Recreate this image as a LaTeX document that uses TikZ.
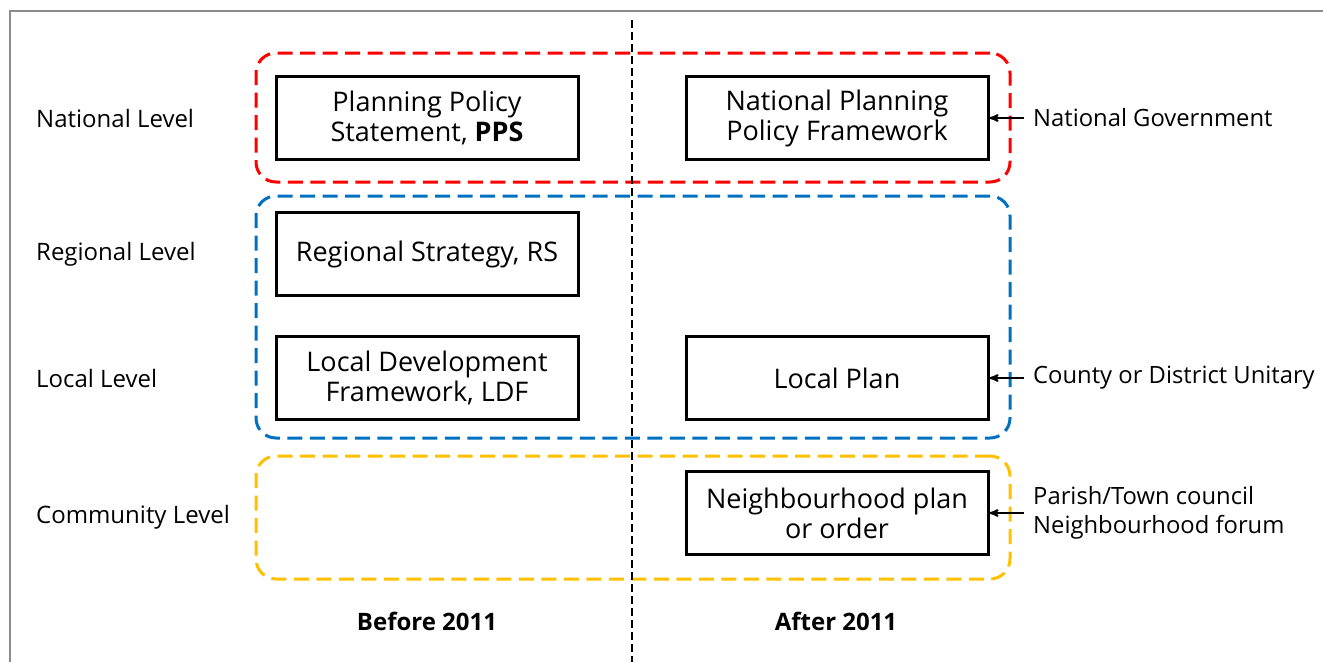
\documentclass[tikz,border=0pt]{standalone}
\usepackage{fontspec}
\setmainfont{Open Sans}
\usetikzlibrary{arrows}
\definecolor{grpred}{HTML}{FF0000}
\definecolor{grpblue}{HTML}{0070C0}
\definecolor{grpyellow}{HTML}{FFC000}
\definecolor{framegray}{HTML}{8C8C8C}

\begin{document}
\begin{tikzpicture}[x=1pt,y=-1pt,>=stealth',
  plan node/.style={draw,line width=3pt,minimum width=302pt,minimum height=83pt,align=center,inner sep=0pt,font=\fontsize{27}{30}\selectfont},
  group node/.style={draw=#1,line width=3pt,dash pattern=on 15pt off 7.5pt,rounded corners=20pt,inner sep=0pt},
  level label/.style={anchor=west,inner sep=0pt,font=\fontsize{24}{28}\selectfont},
  actor label/.style={anchor=west,align=left,inner xsep=9pt,inner ysep=0pt,font=\fontsize{23.8}{29}\selectfont},
  period label/.style={inner sep=0pt,font=\bfseries\fontsize{24}{28}\selectfont}]
  \useasboundingbox (0,0) rectangle (1323,662);

  % frame, clipped on the right and at the bottom
  \coordinate (frametl) at (10,11);
  \coordinate (frametr) at (1323,11);
  \coordinate (framebl) at (10,662);
  \draw[framegray,line width=1.5pt] (framebl) -- (frametl) -- (frametr);

  % dashed groups
  \node[group node=grpred,minimum width=754pt,minimum height=129pt] (natgrp) at (633,117.5) {};
  \node[group node=grpblue,minimum width=754pt,minimum height=242pt] (locgrp) at (633,317) {};
  \node[group node=grpyellow,minimum width=754pt,minimum height=123pt] (comgrp) at (633,517.5) {};

  % before / after divider
  \coordinate (divtop) at (632,20);
  \coordinate (divbot) at (632,662);
  \draw[line width=2.8pt,dash pattern=on 8pt off 4pt] (divtop) -- (divbot);

  % plans
  \node[plan node] (pps) at (427,118) {Planning Policy\\Statement, \textbf{PPS}};
  \node[plan node] (nppf) at (837,118) {National Planning\\Policy Framework};
  \node[plan node] (rs) at (427,254) {Regional Strategy, RS};
  \node[plan node] (ldf) at (427,378) {Local Development\\Framework, LDF};
  \node[plan node] (lp) at (837,378) {Local Plan};
  \node[plan node] (np) at (837,513) {Neighbourhood plan\\or order};

  % levels
  \node[level label] (natlvl) at (36,118) {National Level};
  \node[level label] (reglvl) at (36,254) {Regional Level};
  \node[level label] (loclvl) at (36,378) {Local Level};
  \node[level label] (comlvl) at (36,517) {Community Level};

  % who makes them
  \node[actor label] (natgov) at (1024,118) {National Government};
  \node[actor label] (county) at (1024,378) {County or District Unitary};
  \node[actor label] (parish) at (1024,513) {Parish/Town council\\Neighbourhood forum};

  \path[->,line width=2pt]
  (natgov.west) edge (nppf.east)
  (county.west) edge (lp.east)
  (parish.west) edge (np.east);

  % periods
  \node[period label] (before) at (427,621) {Before 2011};
  \node[period label] (after) at (836,621) {After 2011};
\end{tikzpicture}
\end{document}
